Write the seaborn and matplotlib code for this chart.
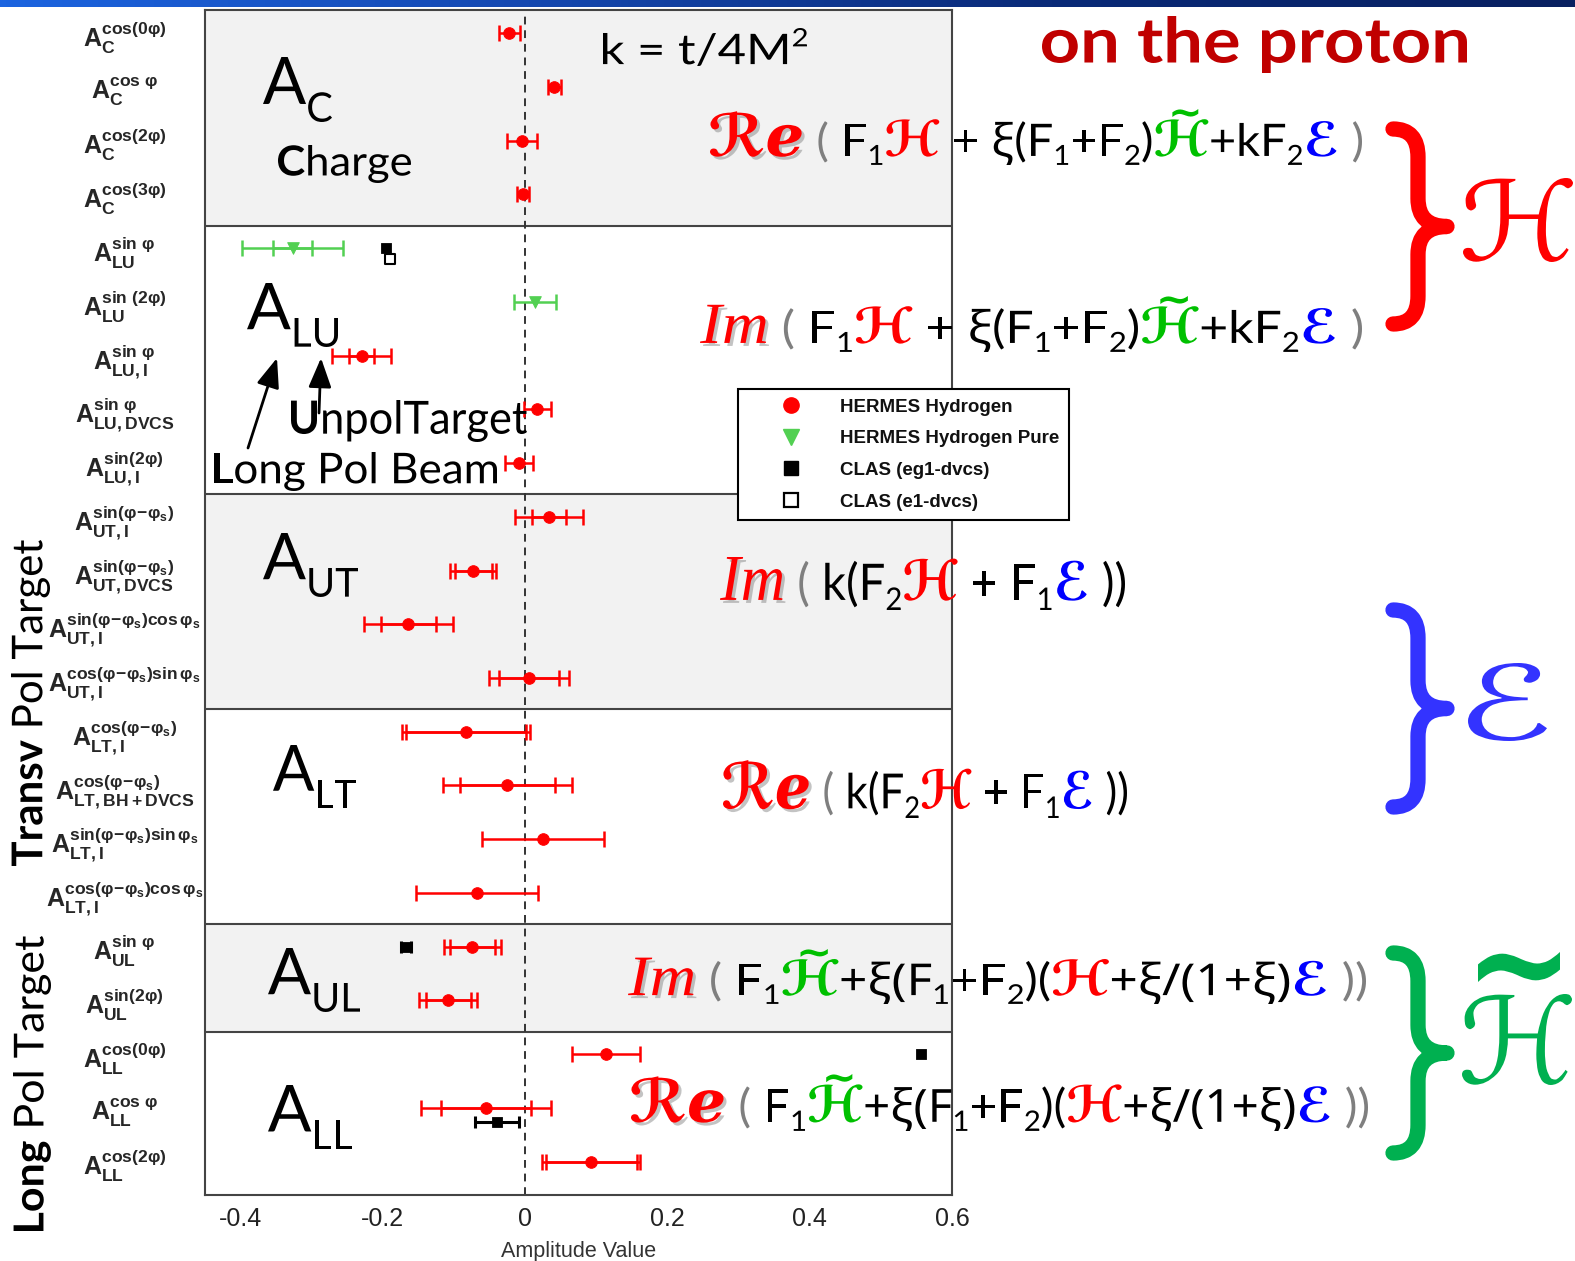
import numpy as np
import pandas as pd
import matplotlib
matplotlib.use('Agg')
import matplotlib.pyplot as plt
import seaborn as sns
from matplotlib.lines import Line2D
from matplotlib.patches import PathPatch
from matplotlib.path import Path
from matplotlib.textpath import TextPath
from matplotlib.font_manager import FontProperties, fontManager, get_font
from matplotlib.transforms import Affine2D
from matplotlib.colors import LinearSegmentedColormap
from matplotlib.ticker import MultipleLocator

# ---------------- data ----------------
sup_labels = ['cos(0φ)', r'cos\ φ', 'cos(2φ)', 'cos(3φ)',
              r'sin\ φ', r'sin\ (2φ)', r'sin\ φ', r'sin\ φ', 'sin(2φ)',
              r'sin(φ\!-\!φ_s)', r'sin(φ\!-\!φ_s)', r'sin(φ\!-\!φ_s)cos\,φ_s', r'cos(φ\!-\!φ_s)sin\,φ_s',
              r'cos(φ\!-\!φ_s)', r'cos(φ\!-\!φ_s)', r'sin(φ\!-\!φ_s)sin\,φ_s', r'cos(φ\!-\!φ_s)cos\,φ_s',
              r'sin\ φ', 'sin(2φ)',
              'cos(0φ)', r'cos\ φ', 'cos(2φ)']
sub_labels = ['C', 'C', 'C', 'C',
              'LU', 'LU', 'LU,I', 'LU,DVCS', 'LU,I',
              'UT,I', 'UT,DVCS', 'UT,I', 'UT,I',
              'LT,I', 'LT,BH+DVCS', 'LT,I', 'LT,I',
              'UL', 'UL',
              'LL', 'LL', 'LL']

hermes_row = [0, 1, 2, 3, 6, 7, 8, 9, 10, 11, 12, 13, 14, 15, 16, 17, 18, 19, 20, 21]
hermes_val = [-0.022, 0.041, -0.004, -0.003, -0.230, 0.017, -0.009,
              0.034, -0.073, -0.164, 0.005,
              -0.083, -0.025, 0.025, -0.068,
              -0.074, -0.108,
              0.114, -0.055, 0.093]
hermes_tot = [0.015, 0.009, 0.021, 0.009, 0.042, 0.019, 0.020,
              0.048, 0.032, 0.063, 0.056,
              0.090, 0.091, 0.086, 0.086,
              0.040, 0.041,
              0.048, 0.091, 0.069]
hermes_stat = [0, 0, 0, 0, 0.018, 0, 0,
               0.024, 0.026, 0.039, 0.042,
               0.084, 0.067, 0, 0,
               0.032, 0.032,
               0, 0.063, 0.064]

pure_row = [4, 5]
pure_val = [-0.327, 0.014]
pure_tot = [0.071, 0.029]
pure_stat = [0.027, 0]

eg1_row = [4, 17, 19, 20]
eg1_val = [-0.195, -0.167, 0.557, -0.040]
eg1_err = [0, 0.007, 0, 0.031]
eg1_shift = [0, 0, 0, 0.27]

e1_row = [4]
e1_val = [-0.190]
e1_shift = [0.2]

panel_sub = ['C', 'LU', 'UT', 'LT', 'UL', 'LL']
panel_last_row = [3, 8, 12, 16, 18, 21]

legend_labels = ['HERMES Hydrogen', 'HERMES Hydrogen Pure', 'CLAS (eg1-dvcs)', 'CLAS (e1-dvcs)']
xtick_vals = [-0.4, -0.2, 0, 0.2, 0.4, 0.6]
xtick_text = ['-0.4', '-0.2', '0', '0.2', '0.4', '0.6']

# ---------------- style ----------------
sns.set_style('white')
plt.rcParams['font.family'] = ['Liberation Sans', 'DejaVu Sans']
plt.rcParams['mathtext.fontset'] = 'custom'
plt.rcParams['mathtext.bf'] = 'Liberation Sans:bold'
plt.rcParams['mathtext.rm'] = 'Liberation Sans:bold'
plt.rcParams['mathtext.it'] = 'Liberation Sans:bold:italic'

RED = '#ff0000'
GREEN = '#52d052'
W, H = 1575, 1261

fig = plt.figure(figsize=(W / 100, H / 100), dpi=100)
fig.patch.set_facecolor('white')
ax = fig.add_axes([205 / W, 1 - 1195 / H, (952 - 205) / W, (1195 - 10) / H])

rows = np.arange(len(sub_labels))
ax.set_xlim(-0.45, 0.598)
ax.set_ylim(21.62, -0.43)

# panel backgrounds and separators
edges = [-0.43] + [r + 0.58 for r in panel_last_row[:-1]] + [21.62]
for i in range(len(panel_sub)):
    if i % 2 == 0:
        ax.axhspan(edges[i], edges[i + 1], color='#f2f2f2', lw=0, zorder=0)
    if 0 < i:
        ax.axhline(edges[i], color='#444444', lw=1.5, zorder=1)
ax.axvline(0, color='#333333', lw=1.4, ls=(0, (4, 3)), zorder=1)

# error bars
ebkw = dict(fmt='none', elinewidth=1.8, capsize=5.8, capthick=1.8, zorder=3)
hv, hy = np.array(hermes_val), np.array(hermes_row, float)
ht, hs = np.array(hermes_tot), np.array(hermes_stat)
ax.errorbar(hv, hy, xerr=ht, ecolor=RED, **ebkw)
m = hs > 0
ax.errorbar(hv[m], hy[m], xerr=hs[m], ecolor=RED, **ebkw)

pv, py = np.array(pure_val), np.array(pure_row, float)
pt, ps = np.array(pure_tot), np.array(pure_stat)
ax.errorbar(pv, py, xerr=pt, ecolor=GREEN, **ebkw)
m = ps > 0
ax.errorbar(pv[m], py[m], xerr=ps[m], ecolor=GREEN, **ebkw)

ev = np.array(eg1_val)
ey = np.array(eg1_row, float) + np.array(eg1_shift)
ee = np.array(eg1_err)
m = ee > 0
ax.errorbar(ev[m], ey[m], xerr=ee[m], ecolor='black', fmt='none', elinewidth=2.2,
            capsize=4, capthick=2.2, zorder=3)

# markers
sns.scatterplot(x=hv, y=hy, marker='o', color=RED, edgecolor=RED, s=70, ax=ax, zorder=4)
sns.scatterplot(x=pv, y=py, marker='v', color=GREEN, edgecolor=GREEN, s=70, ax=ax, zorder=4)
sns.scatterplot(x=ev, y=ey, marker='s', color='black', edgecolor='black', s=55, ax=ax, zorder=4)
sns.scatterplot(x=np.array(e1_val), y=np.array(e1_row, float) + np.array(e1_shift), marker='s',
                color='white', edgecolor='black', linewidth=1.5, s=55, ax=ax, zorder=4)

# axes / ticks
ylabels = [r'$\mathbf{A}^{\mathbf{' + s + r'}}_{\mathbf{' + b + r'}}$'
           for s, b in zip(sup_labels, sub_labels)]
ax.set_yticks(rows)
ax.set_yticklabels(ylabels, fontsize=18)
for t in ax.get_yticklabels():
    t.set_ha('center')
ax.tick_params(axis='y', length=0, pad=58)
ax.set_xticks(xtick_vals)
ax.set_xticklabels(xtick_text, fontsize=18, color='#222222')
ax.xaxis.set_minor_locator(MultipleLocator(0.05))
ax.tick_params(axis='x', which='major', direction='in', length=12, width=1.2, pad=9, colors='#333333')
ax.tick_params(axis='x', which='minor', direction='in', length=7, width=1.2, colors='#333333')
for t in ax.get_xticklabels():
    t.set_color('#222222')
ax.set_xlabel('Amplitude Value', fontsize=15.5, color='#333333', labelpad=7)
ax.set_ylabel('')
for sp in ax.spines.values():
    sp.set_color('#444444')
    sp.set_linewidth(1.5)

# legend
handles = [Line2D([], [], ls='none', marker='o', ms=11, mfc=RED, mec=RED),
           Line2D([], [], ls='none', marker='v', ms=11, mfc=GREEN, mec=GREEN),
           Line2D([], [], ls='none', marker='s', ms=10, mfc='black', mec='black'),
           Line2D([], [], ls='none', marker='s', ms=10, mfc='white', mec='black', mew=1.6)]
leg = fig.legend(handles, legend_labels, loc='upper left', bbox_to_anchor=(738 / W, 1 - 389 / H),
                 frameon=True, fancybox=False, edgecolor='black', framealpha=1, borderpad=0.5,
                 handlelength=4.6, handletextpad=0.35, labelspacing=0.78, borderaxespad=0,
                 prop=FontProperties(family='Liberation Sans', weight='bold', size=13.5))
leg.get_frame().set_linewidth(1.5)
leg.set_zorder(8)
for t in leg.get_texts():
    t.set_color('#111111')

# ---------------- slide text drawn as paths fitted to boxes ----------------
def adv(s, prop):
    font = get_font(fontManager.findfont(prop))
    font.set_size(prop.get_size_in_points(), 72)
    return sum(font.load_char(ord(c)).linearHoriAdvance for c in s) / 65536


def block(items, box, rot=0, z=6):
    x = 0.0
    parts = []
    for s, st in items:
        size = 100 * st.get('size', 1.0)
        prop = FontProperties(family=st.get('family', 'Lato'), weight=st.get('weight', 'normal'),
                              style=st.get('style', 'normal'), size=size)
        dy = 100 * st.get('dy', 0.0)
        w = adv(s, prop)
        if s.strip():
            parts.append((TextPath((x, dy), s, prop=prop), st.get('color', 'black'), st.get('shadow', False)))
        if st.get('tilde'):
            tprop = FontProperties(family='DejaVu Sans', weight='bold', size=size * 0.8)
            tw = adv('~', tprop)
            parts.append((TextPath((x + (w - tw) / 2 + 0.08 * size, dy + 0.62 * size), '~', prop=tprop),
                          st.get('color', 'black'), False))
        x += w
    ext = [p.get_extents() for p, _, _ in parts]
    x0 = min(e.x0 for e in ext)
    x1 = max(e.x1 for e in ext)
    y0 = min(e.y0 for e in ext)
    y1 = max(e.y1 for e in ext)
    bl, bt, br, bb = box
    if rot == 0:
        tr = Affine2D().translate(-x0, -y0).scale((br - bl) / (x1 - x0), (bb - bt) / (y1 - y0)) \
            .translate(bl, H - bb)
    else:
        tr = Affine2D().translate(-x0, -y1).scale((bb - bt) / (x1 - x0), (br - bl) / (y1 - y0)) \
            .rotate_deg(90).translate(bl, H - bb)
    for p, c, sh in parts:
        if sh:
            fig.add_artist(PathPatch(p, transform=tr + Affine2D().translate(3, -3), fc='#888888',
                                     ec='none', alpha=0.5, zorder=z))
        fig.add_artist(PathPatch(p, transform=tr, fc=c, ec='none', zorder=z + 0.1))


def formula(tokens):
    items = []
    for t in tokens:
        if t == 'Re':
            items.append(('ℛℯ', dict(family='DejaVu Sans', weight='bold', color=RED, size=1.3, shadow=True)))
        elif t == 'Im':
            items.append(('Im', dict(family='Liberation Serif', style='italic', color=RED, size=1.3, shadow=True)))
        elif t in ('L(', 'R)'):
            items.append((t[1], dict(color='#7f7f7f', size=1.0)))
        elif t.startswith('_'):
            items.append((t[1:], dict(size=0.62, dy=-0.2)))
        elif t == 'H':
            items.append(('ℋ', dict(family='DejaVu Sans', weight='bold', style='oblique', color=RED, size=1.1)))
        elif t == 'Ht':
            items.append(('ℋ', dict(family='DejaVu Sans', weight='bold', style='oblique', color='#00c000',
                                    size=1.1, tilde=True)))
        elif t == 'E':
            items.append(('ℰ', dict(family='DejaVu Sans', weight='bold', style='oblique', color='#0000ff',
                                    size=1.05)))
        elif 'ξ' in t:
            items.append((t, dict(family='Noto Sans')))
        else:
            items.append((t, dict()))
    return items


blk = dict(weight='bold')
block([('k = t/4M', {}), ('2', dict(size=0.6, dy=0.42))], (603, 28, 807, 66))
block([('on the proton', dict(weight='bold', color='#c00000'))], (1042, 16, 1467, 73))
block([('C', blk), ('harge', {})], (278, 145, 411, 183))
block([('U', blk), ('npolTarget', {})], (291, 400, 527, 442))
block([('L', blk), ('ong Pol Beam', {})], (214, 452, 497, 491))
block([('Transv', blk), (' Pol Target', {})], (11, 540, 50, 866), rot=90)
block([('Long', blk), (' Pol Target', {})], (13, 936, 51, 1231), rot=90)

panel_boxes = [(263, 57, 332, 122), (247, 283, 338, 347), (263, 533, 358, 597),
               (273, 745, 356, 808), (268, 948, 360, 1012), (268, 1085, 352, 1149)]
for sub, bx in zip(panel_sub, panel_boxes):
    block([('A', {}), (sub, dict(size=0.62, dy=-0.27))], bx)

ann = dict(arrowstyle='-|>,head_length=0.9,head_width=0.35', lw=2, color='black',
           mutation_scale=20, shrinkA=0, shrinkB=0)
ax.annotate('', xy=(277, H - 358), xycoords='figure pixels', xytext=(248, H - 448),
            textcoords='figure pixels', arrowprops=ann)
ax.annotate('', xy=(321, H - 358), xycoords='figure pixels', xytext=(319, H - 413),
            textcoords='figure pixels', arrowprops=ann)

f_full = ['L(', ' F', '_1', 'H', ' + ', 'ξ', '(F', '_1', '+F', '_2', ')', 'Ht', '+kF', '_2', 'E', ' ', 'R)']
f_short = ['L(', ' k(F', '_2', 'H', ' + F', '_1', 'E', ' ))']
f_tilde = ['L(', ' F', '_1', 'Ht', '+ξ(F', '_1', '+F', '_2', ')(', 'H', '+ξ/(1+ξ)', 'E', ' ', 'R)', 'R)']
block(formula(['Re', ' '] + f_full), (710, 109, 1362, 165))
block(formula(['Im', ' '] + f_full), (700, 296, 1362, 352))
block(formula(['Im', ' '] + f_short), (720, 557, 1125, 610))
block(formula(['Re', ' '] + f_short), (723, 760, 1127, 818))
block(formula(['Im', ' '] + f_tilde), (628, 949, 1366, 1004))
block(formula(['Re', ' '] + f_tilde), (631, 1074, 1368, 1131))


# braces with their amplitude letters
def brace(yt, yb, color, xt=1393, xs=1418, xm=1447, r=28):
    ym = (yt + yb) / 2
    pts = [(xt, yt), (xs, yt), (xs, yt + r), (xs, ym - r), (xs, ym), (xm, ym),
           (xs, ym), (xs, ym + r), (xs, yb - r), (xs, yb), (xt, yb)]
    codes = [Path.MOVETO, Path.CURVE3, Path.CURVE3, Path.LINETO, Path.CURVE3, Path.CURVE3,
             Path.CURVE3, Path.CURVE3, Path.LINETO, Path.CURVE3, Path.CURVE3]
    p = Path([(px, H - py) for px, py in pts], codes)
    fig.add_artist(PathPatch(p, transform=Affine2D(), fill=False, ec=color, lw=11,
                             capstyle='round', joinstyle='round', zorder=6))


brace(129, 324, RED)
brace(610, 807, '#3333ff')
brace(953, 1153, '#00b050')
block([('ℋ', dict(family='DejaVu Sans', style='oblique', color=RED))], (1463, 178, 1573, 262))
block([('ℰ', dict(family='DejaVu Sans', style='oblique', color='#3333ff'))], (1468, 663, 1547, 741))
block([('ℋ', dict(family='DejaVu Sans', style='oblique', color='#00b050'))], (1462, 994, 1572, 1085))
block([('~', dict(family='DejaVu Sans', weight='bold', color='#00b050'))], (1478, 952, 1560, 982))

# blue bar at the top of the slide
bar = fig.add_axes([0, 1 - 7 / H, 1, 7 / H])
cmap = LinearSegmentedColormap.from_list('bar', ['#1c64e0', '#1548b0', '#0a2a78', '#082060'])
bar.imshow(np.linspace(0, 1, 256)[None, :], aspect='auto', cmap=cmap)
bar.axis('off')

fig.savefig('out.png', dpi=100)
